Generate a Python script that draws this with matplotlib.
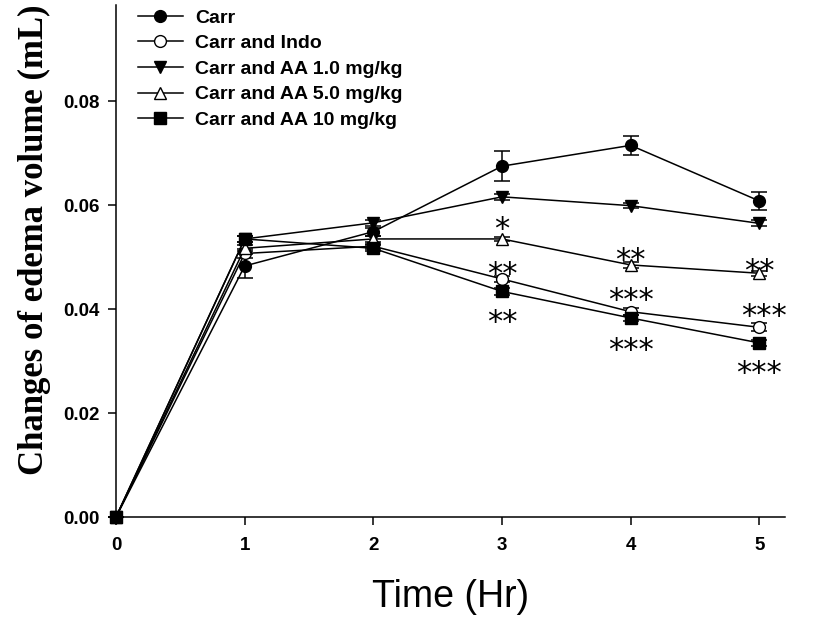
import numpy as np
import matplotlib.pyplot as plt

# paw edema after carrageenan injection
hours = [0, 1, 2, 3, 4, 5]

carr = [0.0, 0.0483, 0.0549, 0.0675, 0.0715, 0.0608]
carr_err = [0.0, 0.0023, 0.0008, 0.0029, 0.0018, 0.0018]

indo = [0.0, 0.0507, 0.0521, 0.0458, 0.0395, 0.0365]
indo_err = [0.0, 0.0008, 0.0005, 0.0006, 0.0007, 0.0008]

aa1 = [0.0, 0.0535, 0.0566, 0.0616, 0.0599, 0.0565]
aa1_err = [0.0, 0.0006, 0.0006, 0.0006, 0.0005, 0.0006]

aa5 = [0.0, 0.0517, 0.0535, 0.0535, 0.0485, 0.0469]
aa5_err = [0.0, 0.0006, 0.0006, 0.0004, 0.0005, 0.0005]

aa10 = [0.0, 0.0535, 0.0517, 0.0434, 0.0383, 0.0335]
aa10_err = [0.0, 0.0006, 0.0006, 0.0006, 0.0006, 0.0005]

labels = ['Carr', 'Carr and Indo', 'Carr and AA 1.0 mg/kg',
          'Carr and AA 5.0 mg/kg', 'Carr and AA 10 mg/kg']

# significance vs Carr at hours 3-5
sig_hours = [3, 4, 5]
sig_aa5 = ['*', '**', '**']
sig_indo = ['**', '***', '***']
sig_aa10 = ['**', '***', '***']

fig = plt.figure(figsize=(8.14, 6.23), dpi=100)
ax = fig.add_axes([0.1425, 0.170, 0.822, 0.822])

series = [
    (carr, carr_err, 'o', 'black'),
    (indo, indo_err, 'o', 'white'),
    (aa1, aa1_err, 'v', 'black'),
    (aa5, aa5_err, '^', 'white'),
    (aa10, aa10_err, 's', 'black'),
]

for (vals, errs, mk, fc), lab in zip(series, labels):
    ax.errorbar(hours, vals, yerr=errs, fmt='none', ecolor='black',
                elinewidth=1.1, capsize=5.5, capthick=1.1, clip_on=False)
    ax.plot(hours, vals, marker=mk, markersize=8.5, markerfacecolor=fc,
            markeredgecolor='black', markeredgewidth=1.0, color='black',
            linewidth=1.1, label=lab, clip_on=False)

# star label offsets in points (dy above the point)
aa5_dy = [6.5, 3.5, 1.0]
indo_dy = [3.0, 8.0, 7.5]
aa10_dy = [-22.0, -23.5, -22.0]
indo_dx = [0, 0, 3.5]

star_font = dict(family='DejaVu Sans', fontsize=22, ha='center', va='center')
for i, h in enumerate(sig_hours):
    ax.annotate(sig_aa5[i], (h, aa5[h]), xytext=(0, aa5_dy[i]),
                textcoords='offset points', **star_font)
    ax.annotate(sig_indo[i], (h, indo[h]), xytext=(indo_dx[i], indo_dy[i]),
                textcoords='offset points', **star_font)
    ax.annotate(sig_aa10[i], (h, aa10[h]), xytext=(0, aa10_dy[i]),
                textcoords='offset points', **star_font)

ax.set_xlim(0, 5.2)
ax.set_ylim(0, 0.0985)
ax.set_xticks(hours)
ax.set_yticks([0.0, 0.02, 0.04, 0.06, 0.08])
ax.set_yticklabels(['0.00', '0.02', '0.04', '0.06', '0.08'])

for side in ['top', 'right']:
    ax.spines[side].set_visible(False)
for side in ['left', 'bottom']:
    ax.spines[side].set_linewidth(1.1)

ax.tick_params(direction='out', length=6, width=1.1, labelsize=13.5)
ax.tick_params(axis='x', pad=8)
ax.tick_params(axis='y', pad=6)
for t in ax.get_xticklabels() + ax.get_yticklabels():
    t.set_fontfamily('Liberation Sans')
    t.set_fontweight('bold')

ax.set_ylabel('Changes of edema volume (mL)', fontfamily='Liberation Serif',
              fontweight='bold', fontsize=25)
ax.yaxis.set_label_coords(-0.097, 0.541)
ax.set_xlabel('Time (Hr)', fontfamily='Liberation Sans', fontsize=27)
ax.xaxis.set_label_coords(0.5, -0.12)

ax.legend(loc='upper left', bbox_to_anchor=(0.033, 0.992), frameon=False,
          prop={'family': 'Liberation Sans', 'weight': 'bold', 'size': 14},
          handlelength=2.3, handletextpad=0.62, labelspacing=0.41,
          borderaxespad=0, borderpad=0)

fig.savefig('out.png', dpi=100)
